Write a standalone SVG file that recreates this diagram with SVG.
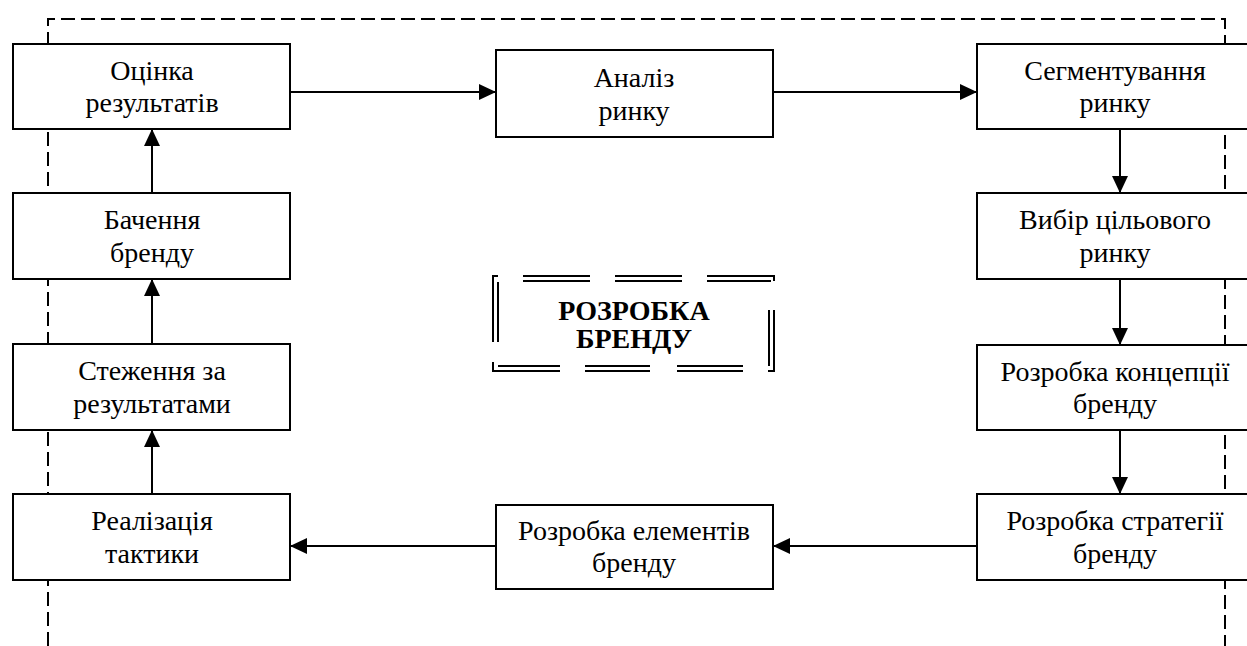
<svg xmlns="http://www.w3.org/2000/svg" width="1247" height="646" viewBox="0 0 1247 646">
<style>
.box{fill:#fff;stroke:#000;stroke-width:2}
.t{font-family:"Liberation Serif","Times New Roman",serif;font-size:28px;fill:#000;text-anchor:middle}
.tb{font-family:"Liberation Serif","Times New Roman",serif;font-size:28px;font-weight:bold;fill:#000;text-anchor:middle}
.dash{fill:none;stroke:#000;stroke-width:2;stroke-dasharray:14 6}
.c{fill:none;stroke:#000;stroke-width:2}
.fr{fill:none;stroke:#000;stroke-width:2}
</style>
<defs>
<marker id="ah" markerUnits="userSpaceOnUse" markerWidth="17" markerHeight="16" refX="17" refY="8" orient="auto">
<path d="M0,0 L17,8 L0,16 Z" fill="#000"/>
</marker>
</defs>
<rect width="1247" height="646" fill="#fff"/>
<g id="frame">
<path class="dash" d="M48,646 L48,19 L1225,19 L1225,646"/>
</g>
<g id="connectors">
<line class="c" x1="290" y1="92" x2="496" y2="92" marker-end="url(#ah)"/>
<line class="c" x1="773" y1="92" x2="977" y2="92" marker-end="url(#ah)"/>
<line class="c" x1="1120" y1="129" x2="1120" y2="193" marker-end="url(#ah)"/>
<line class="c" x1="1120" y1="279" x2="1120" y2="345" marker-end="url(#ah)"/>
<line class="c" x1="1120" y1="430" x2="1120" y2="494" marker-end="url(#ah)"/>
<line class="c" x1="977" y1="546" x2="773" y2="546" marker-end="url(#ah)"/>
<line class="c" x1="496" y1="546" x2="290" y2="546" marker-end="url(#ah)"/>
<line class="c" x1="152" y1="494" x2="152" y2="430" marker-end="url(#ah)"/>
<line class="c" x1="152" y1="344" x2="152" y2="279" marker-end="url(#ah)"/>
<line class="c" x1="152" y1="193" x2="152" y2="129" marker-end="url(#ah)"/>
</g>
<g id="n1"><rect class="box" x="13" y="44" width="277" height="85"/><text class="t" x="152" y="80">Оцінка</text><text class="t" x="152" y="112">результатів</text></g>
<g id="n2"><rect class="box" x="496" y="50" width="277" height="87"/><text class="t" x="634" y="87">Аналіз</text><text class="t" x="634" y="120">ринку</text></g>
<g id="n3"><rect class="box" x="977" y="44" width="280" height="85"/><text class="t" x="1115" y="80">Сегментування</text><text class="t" x="1115" y="112">ринку</text></g>
<g id="n4"><rect class="box" x="977" y="193" width="280" height="86"/><text class="t" x="1115" y="229">Вибір цільового</text><text class="t" x="1115" y="262">ринку</text></g>
<g id="n5"><rect class="box" x="977" y="345" width="280" height="85"/><text class="t" x="1115" y="381">Розробка концепції</text><text class="t" x="1115" y="413">бренду</text></g>
<g id="n6"><rect class="box" x="977" y="494" width="280" height="86"/><text class="t" x="1115" y="530">Розробка стратегії</text><text class="t" x="1115" y="563">бренду</text></g>
<g id="n7"><rect class="box" x="496" y="505" width="277" height="84"/><text class="t" x="634" y="540">Розробка елементів</text><text class="t" x="634" y="572">бренду</text></g>
<g id="n8"><rect class="box" x="13" y="494" width="277" height="86"/><text class="t" x="152" y="530">Реалізація</text><text class="t" x="152" y="563">тактики</text></g>
<g id="n9"><rect class="box" x="13" y="344" width="277" height="86"/><text class="t" x="152" y="380">Стеження за</text><text class="t" x="152" y="413">результатами</text></g>
<g id="n10"><rect class="box" x="13" y="193" width="277" height="86"/><text class="t" x="152" y="229">Бачення</text><text class="t" x="152" y="262">бренду</text></g>
<g id="center">
<path class="fr" d="M498,276 L493,276 L493,342 M498,282 L498,342"/>
<path class="fr" d="M523,276 H590 M615,276 H682 M707,276 H774 V281 M523,281 H590 M615,281 H682 M707,281 H771"/>
<path class="fr" d="M774,310 V371 H768 M769,310 V366"/>
<path class="fr" d="M493,362 V371 H560 M585,371 H650 M677,371 H743 M498,366 H560 M585,366 H650 M677,366 H743"/>
<text class="tb" x="634" y="320">РОЗРОБКА</text>
<text class="tb" x="634" y="348">БРЕНДУ</text>
</g>
</svg>
